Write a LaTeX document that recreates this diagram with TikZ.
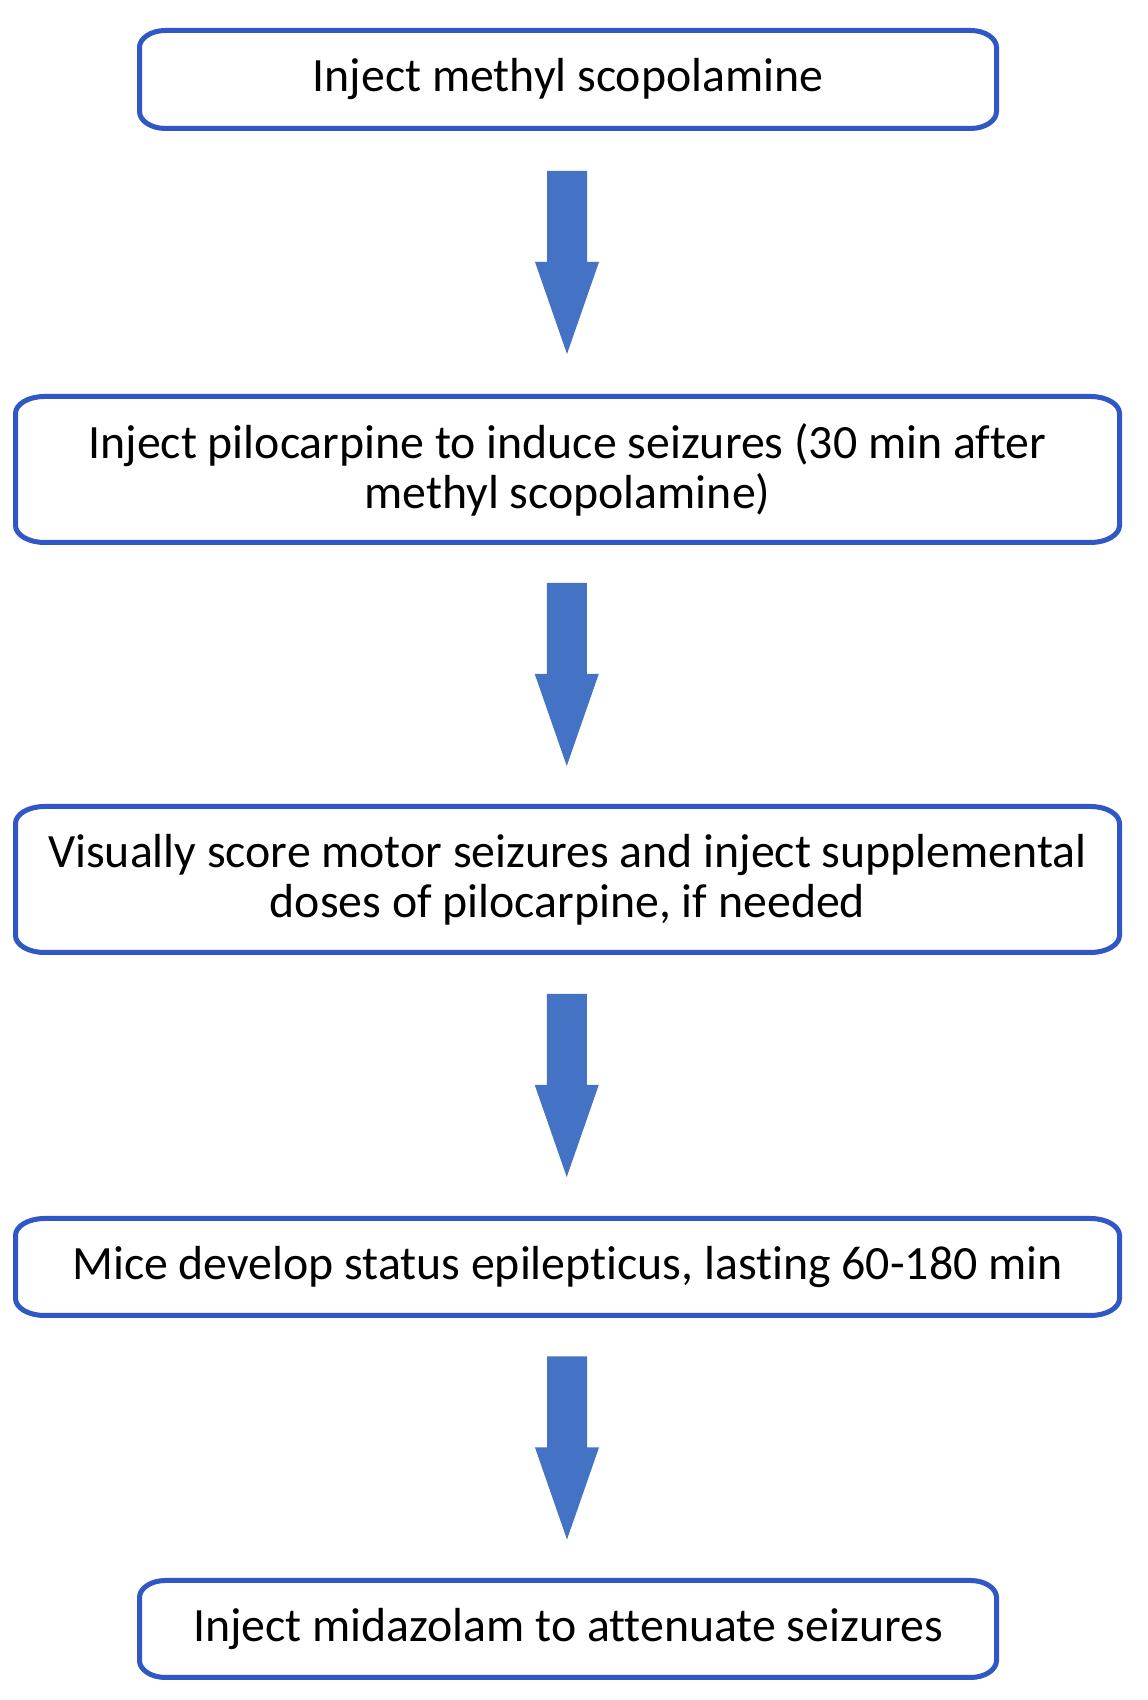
\documentclass[tikz,border=0pt]{standalone}
\usepackage{fontspec}
\setmainfont{Carlito}[Ligatures=NoCommon]
\usetikzlibrary{calc}
\definecolor{boxblue}{RGB}{47,87,197}
\definecolor{arrowblue}{RGB}{68,114,196}
\tikzset{
  stepbox/.style={rectangle, draw=none, inner sep=0pt, outer sep=0pt, align=center,
    font=\fontsize{47.8}{50}\selectfont, text=black},
  boxline/.style={draw=boxblue, line width=5pt},
  blockdown/.pic={\fill[arrowblue] (-20,91.5) -- (20,91.5) -- (20,0.5) -- (32,0.5) -- (0,-91.5) -- (-32,0.5) -- (-20,0.5) -- cycle;}
}
\begin{document}
\begin{tikzpicture}[x=1pt,y=1pt]
\useasboundingbox (0,0) rectangle (1148,1700);
\fill[white] (0,0) rectangle (1148,1700);

\node[stepbox, minimum width=857pt, minimum height=98pt] (b1) at (568,1620.5) {Inject methyl scopolamine};
\node[stepbox, minimum width=1104pt, minimum height=146pt] (b2) at (567.5,1230.5) {Inject pilocarpine to induce seizures (30 min after\\methyl scopolamine)};
\node[stepbox, minimum width=1104pt, minimum height=146pt] (b3) at (567.5,820.5) {Visually score motor seizures and inject supplemental\\doses of pilocarpine, if needed};
\node[stepbox, minimum width=1104pt, minimum height=97pt] (b4) at (567.5,433) {Mice develop status epilepticus, lasting 60-180 min};
\node[stepbox, minimum width=857pt, minimum height=97pt] (b5) at (568,71) {Inject midazolam to attenuate seizures};

\foreach \n/\rx in {b1/26,b2/29,b3/29,b4/29,b5/26}{
  \draw[boxline] ([xshift=\rx pt]\n.north west) -- ([xshift=-\rx pt]\n.north east)
    arc[start angle=90,end angle=0,x radius=\rx pt,y radius=17pt]
    -- ([yshift=17pt]\n.south east)
    arc[start angle=0,end angle=-90,x radius=\rx pt,y radius=17pt]
    -- ([xshift=\rx pt]\n.south west)
    arc[start angle=270,end angle=180,x radius=\rx pt,y radius=17pt]
    -- ([yshift=-17pt]\n.north west)
    arc[start angle=180,end angle=90,x radius=\rx pt,y radius=17pt] -- cycle;
}

\path (b1.south) -- (b2.north) coordinate[midway] (m1);
\path (b2.south) -- (b3.north) coordinate[midway] (m2);
\path (b3.south) -- (b4.north) coordinate[midway] (m3);
\path (b4.south) -- (b5.north) coordinate[midway] (m4);
\foreach \m in {m1,m2,m3,m4}{ \pic at ([xshift=-0.75pt]\m) {blockdown}; }
\end{tikzpicture}
\end{document}
